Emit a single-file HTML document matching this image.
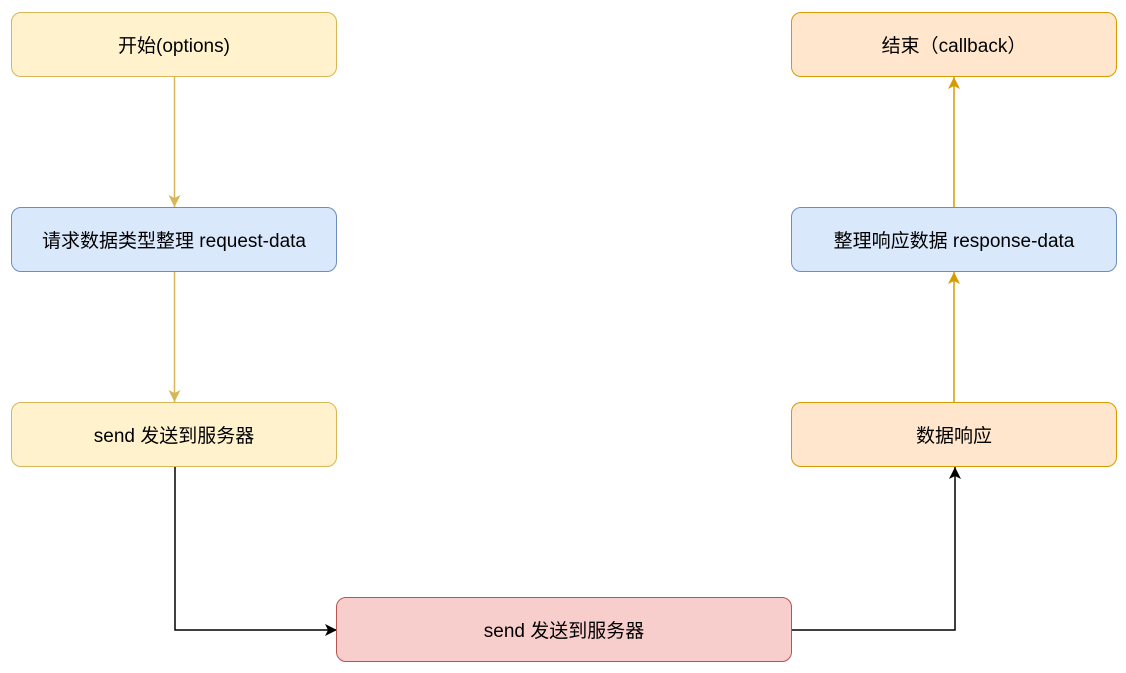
<!DOCTYPE html>
<html><head><meta charset="utf-8"><style>
html,body{margin:0;padding:0;background:#fff;width:1126px;height:673px;overflow:hidden}
.b{position:absolute;box-sizing:border-box;border:1.8px solid;border-radius:10px;display:flex;align-items:center;justify-content:center;font-family:"Liberation Sans","Noto Sans CJK SC",sans-serif;font-size:19px;color:#000}
.y{background:#fff2cc;border-color:#d6b656}
.bl{background:#dae8fc;border-color:#6c8ebf}
.r{background:#f8cecc;border-color:#b85450}
.o{background:#ffe6cc;border-color:#d79b00}
svg{position:absolute;left:0;top:0}
</style></head><body>
<svg width="1126" height="673">
<defs>
<marker id="ay" markerWidth="12" markerHeight="12" refX="12" refY="6" orient="auto" markerUnits="userSpaceOnUse"><path d="M0,0 L12,6 L0,12 L3,6 z" fill="#d6b656"/></marker>
<marker id="ao" markerWidth="12" markerHeight="12" refX="12" refY="6" orient="auto" markerUnits="userSpaceOnUse"><path d="M0,0 L12,6 L0,12 L3,6 z" fill="#d79b00"/></marker>
<marker id="ak" markerWidth="12" markerHeight="12" refX="12" refY="6" orient="auto" markerUnits="userSpaceOnUse"><path d="M0,0 L12,6 L0,12 L3,6 z" fill="#000"/></marker>
</defs>
<g fill="none" stroke-width="1.5">
<path d="M174.5 77 V207" stroke="#d6b656" marker-end="url(#ay)"/>
<path d="M174.5 272 V402" stroke="#d6b656" marker-end="url(#ay)"/>
<path d="M175 467 V630 H337" stroke="#000" marker-end="url(#ak)"/>
<path d="M792 630 H955 V467" stroke="#000" marker-end="url(#ak)"/>
<path d="M954 402 V272" stroke="#d79b00" marker-end="url(#ao)"/>
<path d="M954 207 V77" stroke="#d79b00" marker-end="url(#ao)"/>
</g>
</svg>
<div class="b y" style="left:11px;top:12px;width:326px;height:65px">开始(options)</div>
<div class="b bl" style="left:11px;top:207px;width:326px;height:65px">请求数据类型整理 request-data</div>
<div class="b y" style="left:11px;top:402px;width:326px;height:65px">send 发送到服务器</div>
<div class="b r" style="left:336px;top:597px;width:456px;height:65px">send 发送到服务器</div>
<div class="b o" style="left:791px;top:402px;width:326px;height:65px">数据响应</div>
<div class="b bl" style="left:791px;top:207px;width:326px;height:65px">整理响应数据 response-data</div>
<div class="b o" style="left:791px;top:12px;width:326px;height:65px">结束（callback）</div>
</body></html>
